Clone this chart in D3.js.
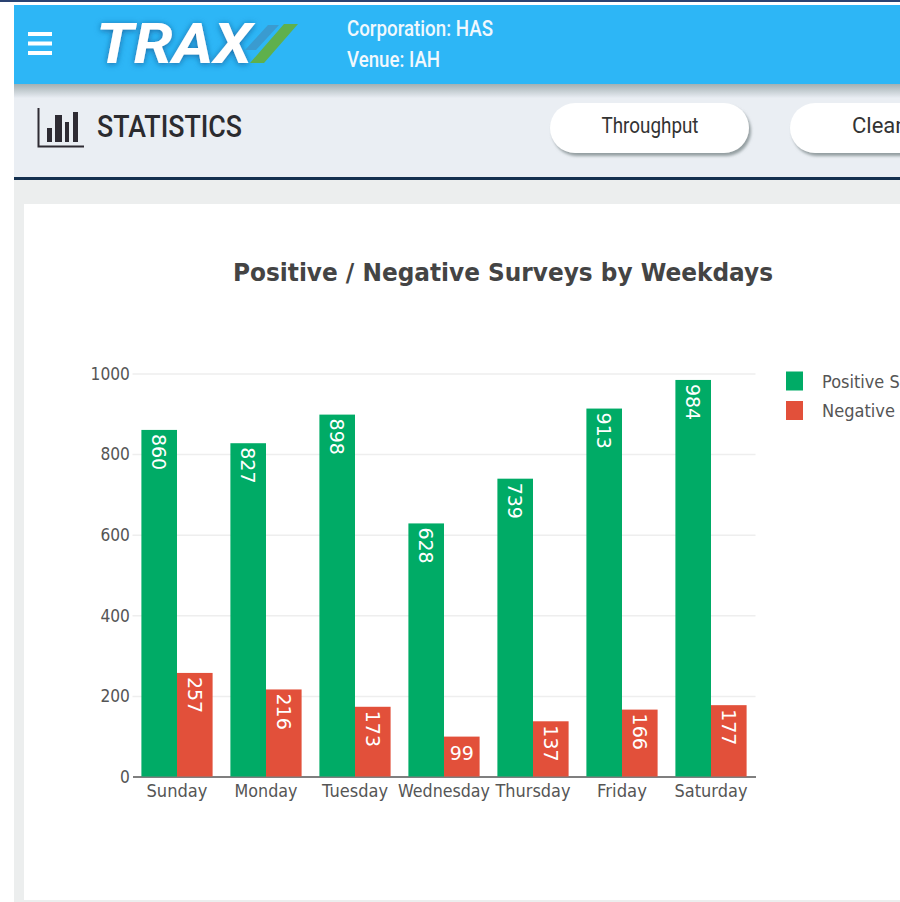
<!DOCTYPE html>
<html>
<head>
<meta charset="utf-8">
<script src="https://d3js.org/d3.v7.min.js"></script>
<style>
  html, body { margin: 0; padding: 0; background: #fff; overflow: hidden; }
  svg { display: block; }
</style>
</head>
<body>
<div id="chart-container"></div>
<script>
const weekdays = ["Sunday", "Monday", "Tuesday", "Wednesday", "Thursday", "Friday", "Saturday"];
const positiveSurveys = [860, 827, 898, 628, 739, 913, 984];
const negativeSurveys = [257, 216, 173, 99, 137, 166, 177];
const yTicks = [0, 200, 400, 600, 800, 1000];
const seriesNames = ["Positive Surveys", "Negative Surveys"];
const seriesColors = ["#00ab66", "#e2503a"];

let width = 900, height = 902;

let svg = d3.select("#chart-container")
  .append("svg")
  .attr("width", width)
  .attr("height", height);

let defs = svg.append("defs");

// soft shadow under the header bar
let headGrad = defs.append("linearGradient").attr("id", "headShadow").attr("x2", 0).attr("y2", 1);
headGrad.append("stop").attr("offset", 0).attr("stop-color", "#a3b0b3");
headGrad.append("stop").attr("offset", 1).attr("stop-color", "#e9edf3");

let btnShadow = defs.append("filter").attr("id", "btnShadow")
  .attr("x", "-10%").attr("y", "-20%").attr("width", "125%").attr("height", "150%");
btnShadow.append("feDropShadow")
  .attr("dx", 2).attr("dy", 3).attr("stdDeviation", 1.5)
  .attr("flood-color", "#7f8a8d").attr("flood-opacity", 0.8);

let logoGlow = defs.append("filter").attr("id", "logoGlow")
  .attr("x", "-10%").attr("y", "-20%").attr("width", "120%").attr("height", "140%");
logoGlow.append("feDropShadow")
  .attr("dx", 0).attr("dy", 1).attr("stdDeviation", 3)
  .attr("flood-color", "#14609a").attr("flood-opacity", 0.9);

// ----- PAGE CHROME -----
svg.append("rect").attr("x", 0).attr("y", 0).attr("width", width).attr("height", 2).attr("fill", "#2a4372");
svg.append("rect").attr("x", 14).attr("y", 5).attr("width", width - 14).attr("height", 79).attr("fill", "#2db6f6");
svg.append("rect").attr("x", 14).attr("y", 84).attr("width", width - 14).attr("height", 94).attr("fill", "#eaeef3");
svg.append("rect").attr("x", 14).attr("y", 84).attr("width", width - 14).attr("height", 14).attr("fill", "url(#headShadow)");
svg.append("rect").attr("x", 14).attr("y", 177).attr("width", width - 14).attr("height", 3).attr("fill", "#14304f");
svg.append("rect").attr("x", 14).attr("y", 180).attr("width", width - 14).attr("height", height - 180).attr("fill", "#eceeee");
svg.append("rect").attr("x", 24).attr("y", 204).attr("width", width - 24).attr("height", height - 204 - 2).attr("fill", "#fff");

// hamburger
[32, 41.5, 51].forEach(y => {
  svg.append("rect").attr("x", 28).attr("y", y).attr("width", 24).attr("height", 4).attr("fill", "#fff");
});

// logo
let logo = svg.append("g");
logo.append("text")
  .attr("x", 96).attr("y", 63)
  .attr("font-family", "Roboto, sans-serif")
  .attr("font-weight", 700)
  .attr("font-style", "italic")
  .attr("font-size", 55)
  .attr("textLength", 156)
  .attr("lengthAdjust", "spacingAndGlyphs")
  .attr("fill", "#fff")
  .attr("filter", "url(#logoGlow)")
  .text("TRAX");
logo.append("path").attr("d", "M245 50 L256 50 L279 25 L268 25 Z").attr("fill", "#3a9bd0");
logo.append("path").attr("d", "M250 63 L264 63 L298 24 L284 24 Z").attr("fill", "#5fb04c");

let infoLines = ["Corporation: HAS", "Venue: IAH"];
infoLines.forEach((t, i) => {
  svg.append("text")
    .attr("x", 347).attr("y", 36 + i * 31)
    .attr("font-family", "Roboto, sans-serif")
    .attr("font-weight", 500)
    .attr("font-size", 22)
    .attr("textLength", i == 0 ? 146 : 93)
    .attr("lengthAdjust", "spacingAndGlyphs")
    .attr("fill", "#f1f8fd")
    .text(t);
});

// statistics icon
svg.append("path").attr("d", "M38.5 108 V146.5 H84").attr("fill", "none").attr("stroke", "#2e2b33").attr("stroke-width", 2);
[[47, 128, 5, 14], [55, 115, 7, 27], [65, 122, 4, 20], [73, 112, 5, 30]].forEach(b => {
  svg.append("rect").attr("x", b[0]).attr("y", b[1]).attr("width", b[2]).attr("height", b[3]).attr("fill", "#2e2b33");
});

svg.append("text")
  .attr("x", 97).attr("y", 137)
  .attr("font-family", "Roboto, sans-serif")
  .attr("font-weight", 500)
  .attr("font-size", 32)
  .attr("textLength", 145)
  .attr("lengthAdjust", "spacingAndGlyphs")
  .attr("fill", "#2b2b2f")
  .text("STATISTICS");

// buttons
[[550, 199], [790, 199]].forEach(b => {
  svg.append("rect")
    .attr("x", b[0]).attr("y", 103).attr("width", b[1]).attr("height", 50).attr("rx", 25)
    .attr("fill", "#fff").attr("filter", "url(#btnShadow)");
});
svg.append("text")
  .attr("x", 650).attr("y", 133).attr("text-anchor", "middle")
  .attr("font-family", "Roboto, sans-serif").attr("font-size", 22)
  .attr("textLength", 97).attr("lengthAdjust", "spacingAndGlyphs")
  .attr("fill", "#333").text("Throughput");
svg.append("text")
  .attr("x", 852).attr("y", 133)
  .attr("font-family", "Roboto, sans-serif").attr("font-size", 22)
  .attr("fill", "#333").text("Cleanliness");

// ----- CHART -----
let plot = { left: 132.5, right: 755.5, top: 373.5, bottom: 776.5 };
let fontFamily = "'DejaVu Sans', Verdana, sans-serif";

let xScale = d3.scaleBand()
  .domain(weekdays)
  .range([plot.left, plot.right])
  .paddingInner(0.2)
  .paddingOuter(0.1);

let xSeries = d3.scaleBand()
  .domain(seriesNames)
  .range([0, xScale.bandwidth()]);

let yScale = d3.scaleLinear()
  .domain([0, 1000])
  .range([plot.bottom, plot.top]);

svg.append("text")
  .attr("x", 503).attr("y", 281)
  .attr("text-anchor", "middle")
  .attr("font-family", fontFamily)
  .attr("font-weight", 700)
  .attr("font-size", 24)
  .attr("textLength", 540)
  .attr("lengthAdjust", "spacingAndGlyphs")
  .attr("fill", "#444")
  .text("Positive / Negative Surveys by Weekdays");

// ----- AXES -----
let yAxis = svg.append("g")
  .attr("transform", `translate(${plot.left},0)`)
  .call(d3.axisLeft(yScale).tickValues(yTicks).tickFormat(d3.format("d")).tickSize(0).tickPadding(1.5));
yAxis.select(".domain").remove();
yAxis.selectAll("line")
  .attr("x2", plot.right - plot.left)
  .attr("stroke", d => d == 0 ? "none" : "#eeeeee")
  .attr("stroke-width", 1.5);
yAxis.selectAll("text")
  .attr("font-family", fontFamily)
  .attr("font-size", 18)
  .attr("transform", "scale(0.86,1)")
  .attr("x", -3)
  .attr("fill", "#555");

let xAxis = svg.append("g")
  .attr("transform", `translate(0,${plot.bottom})`)
  .call(d3.axisBottom(xScale).tickSize(0).tickPadding(8));
xAxis.select(".domain").attr("stroke", "#555").attr("stroke-width", 1.5);
xAxis.selectAll("text")
  .attr("font-family", fontFamily)
  .attr("font-size", 18)
  .attr("textLength", (d, i) => [61, 63, 66, 92, 75, 50, 73][i])
  .attr("lengthAdjust", "spacingAndGlyphs")
  .attr("fill", "#555");

// ----- BARS -----
let series = seriesNames.map((name, i) => ({
  name: name,
  color: seriesColors[i],
  values: i == 0 ? positiveSurveys : negativeSurveys
}));

let groups = svg.selectAll(".series")
  .data(series)
  .enter().append("g")
  .attr("class", "series");

groups.selectAll("rect")
  .data(s => s.values.map((v, i) => ({ name: s.name, day: weekdays[i], value: v, color: s.color })))
  .enter().append("rect")
  .attr("x", d => xScale(d.day) + xSeries(d.name))
  .attr("y", d => yScale(d.value))
  .attr("width", xSeries.bandwidth())
  .attr("height", d => yScale(0) - yScale(d.value))
  .attr("fill", d => d.color);

// values read down the bar, except 99 which fits flat
groups.selectAll("text")
  .data(s => s.values.map((v, i) => ({ name: s.name, day: weekdays[i], value: v })))
  .enter().append("text")
  .attr("transform", d => {
    let cx = xScale(d.day) + xSeries(d.name) + xSeries.bandwidth() / 2;
    if (d.value < 100) return `translate(${cx},${yScale(d.value) + 23.5})`;
    return `translate(${cx},${yScale(d.value) + 4}) rotate(90)`;
  })
  .attr("text-anchor", d => d.value < 100 ? "middle" : "start")
  .attr("dy", d => d.value < 100 ? 0 : "0.36em")
  .attr("font-family", fontFamily)
  .attr("font-size", 19)
  .attr("fill", "#fff")
  .text(d => d.value);

// ----- LEGEND -----
let legend = svg.selectAll(".legend")
  .data(series)
  .enter().append("g")
  .attr("class", "legend")
  .attr("transform", (d, i) => `translate(786,${371.5 + i * 29.5})`);

legend.append("rect")
  .attr("width", 17).attr("height", 19)
  .attr("fill", d => d.color);

legend.append("text")
  .attr("x", 36).attr("y", 16)
  .attr("font-family", fontFamily)
  .attr("font-size", 18)
  .attr("textLength", (d, i) => i == 0 ? 132 : 143)
  .attr("lengthAdjust", "spacingAndGlyphs")
  .attr("fill", "#555")
  .text(d => d.name);
</script>
</body>
</html>
